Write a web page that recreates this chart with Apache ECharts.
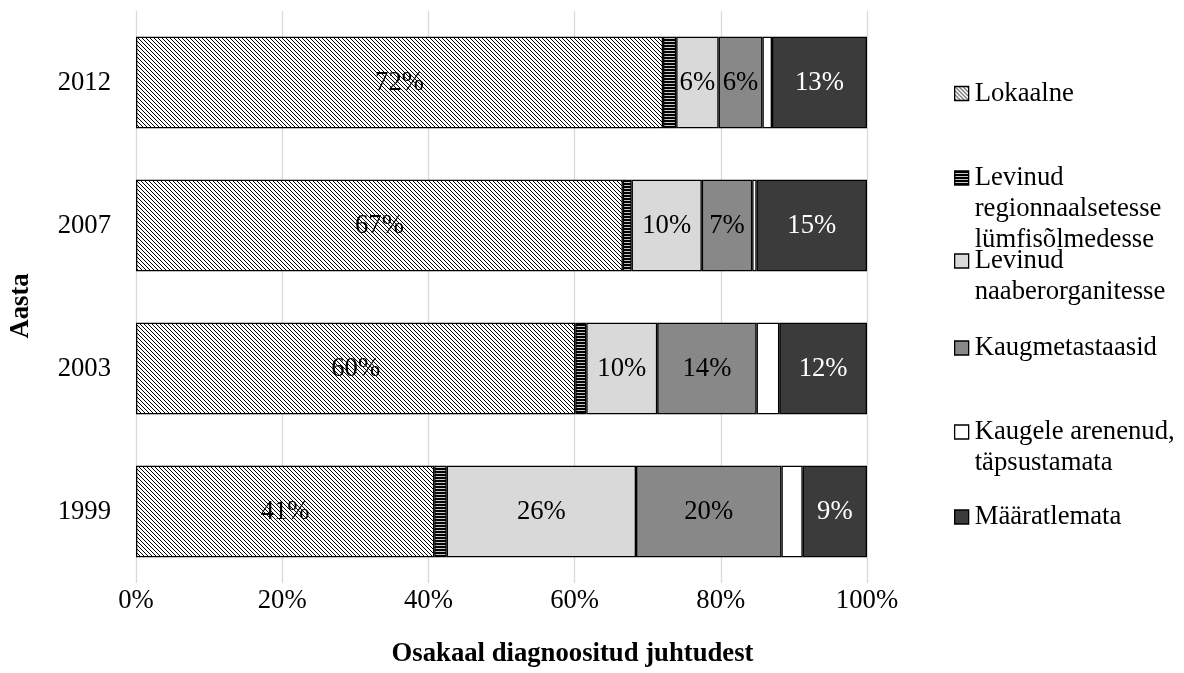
<!DOCTYPE html>
<html>
<head>
<meta charset="utf-8">
<script src="https://cdn.jsdelivr.net/npm/echarts@6/dist/echarts.min.js"></script>
<style>
  html, body { margin: 0; padding: 0; background: #fff; }
  #chart { width: 1184px; height: 673px; }
</style>
</head>
<body>
<div id="chart"></div>
<script>
// Diagnosis stage shares (%) by year
const years = ['1999', '2003', '2007', '2012'];
const seriesNames = [
  'Lokaalne',
  'Levinud regionnaalsetesse lümfisõlmedesse',
  'Levinud naaberorganitesse',
  'Kaugmetastaasid',
  'Kaugele arenenud, täpsustamata',
  'Määratlemata'
];
const legendLines = [
  ['Lokaalne'],
  ['Levinud', 'regionnaalsetesse', 'lümfisõlmedesse'],
  ['Levinud', 'naaberorganitesse'],
  ['Kaugmetastaasid'],
  ['Kaugele arenenud,', 'täpsustamata'],
  ['Määratlemata']
];
const lokaalne        = [40.8, 60.1, 66.6, 72.1];
const regionaalne     = [1.7, 1.5, 1.2, 1.8];
const naaberorganid   = [25.9, 9.7, 9.6, 5.8];
const kaugmetastaasid = [19.9, 13.6, 6.9, 6.0];
const taepsustamata   = [2.9, 3.1, 0.6, 1.3];
const maaratlemata    = [8.8, 12.0, 15.1, 13.0];
const xTicks = [0, 20, 40, 60, 80, 100];

const FONT = "'Liberation Serif', 'Times New Roman', serif";
const FS = 26.7;

// Fill patterns
function diagPattern() {
  const c = document.createElement('canvas');
  c.width = 4; c.height = 4;
  const g = c.getContext('2d');
  g.fillStyle = '#fff'; g.fillRect(0, 0, 4, 4);
  g.fillStyle = '#000';
  for (let i = 0; i < 4; i++) g.fillRect(i, i, 1, 1);
  return { image: c, repeat: 'repeat' };
}
function stripePattern() {
  const c = document.createElement('canvas');
  c.width = 4; c.height = 3;
  const g = c.getContext('2d');
  g.fillStyle = '#000'; g.fillRect(0, 0, 4, 3);
  g.fillStyle = '#c8c8c8'; g.fillRect(0, 2, 4, 1);
  return { image: c, repeat: 'repeat' };
}

const fills = [diagPattern(), stripePattern(), '#d9d9d9', '#888888', '#ffffff', '#3b3b3b'];
const values = [lokaalne, regionaalne, naaberorganid, kaugmetastaasid, taepsustamata, maaratlemata];
const labelled = [true, false, true, true, false, true];
const labelColors = ['#000', '#000', '#000', '#000', '#000', '#fff'];

const series = seriesNames.map((name, i) => ({
  name: name,
  type: 'bar',
  stack: 'total',
  barCategoryGap: '36%',
  data: values[i],
  itemStyle: { color: fills[i], borderColor: '#000', borderWidth: 1.3 },
  label: {
    show: labelled[i],
    position: 'inside',
    formatter: p => Math.round(p.value) + '%',
    fontFamily: FONT,
    fontSize: FS,
    color: labelColors[i]
  },
  emphasis: { disabled: true }
}));

// One legend block per series. Every entry is a 5-line block whose middle line
// is the first text line, so the icon sits beside the first line.
const LINE_H = 31;
const legendIconY = [93.5, 178, 261, 348, 432, 517];
const legends = seriesNames.map((name, i) => {
  const lines = legendLines[i];
  const block = ['', ''].concat(lines);
  while (block.length < 5) block.push('');
  return {
    data: [{ name: name, icon: 'rect' }],
    orient: 'vertical',
    left: 954,
    top: legendIconY[i] - 2.5 * LINE_H,
    padding: 0,
    itemWidth: 14,
    itemHeight: 14,
    itemGap: 0,
    selectedMode: false,
    formatter: () => block.join('\n'),
    itemStyle: { borderColor: '#000', borderWidth: 1.3 },
    textStyle: {
      fontFamily: FONT,
      fontSize: FS,
      color: '#000',
      lineHeight: LINE_H,
      padding: [0, 0, 0, 1]
    }
  };
});

const chart = echarts.init(document.getElementById('chart'), null, { renderer: 'canvas' });
chart.setOption({
  animation: false,
  backgroundColor: '#fff',
  grid: { left: 118, right: 317, top: 11, bottom: 70, containLabel: false },
  legend: legends,
  xAxis: {
    type: 'value',
    min: xTicks[0],
    max: xTicks[xTicks.length - 1],
    interval: xTicks[1] - xTicks[0],
    name: 'Osakaal diagnoositud juhtudest',
    nameLocation: 'middle',
    nameGap: 58,
    nameTextStyle: { fontFamily: FONT, fontSize: FS, fontWeight: 'bold', color: '#000', padding: [0, 0, 0, 142] },
    axisLine: { show: false },
    axisTick: { show: false },
    axisLabel: { formatter: '{value}%', fontFamily: FONT, fontSize: FS, color: '#000', margin: 4 },
    splitLine: { show: true, lineStyle: { color: '#d9d9d9', width: 1.3 } }
  },
  yAxis: {
    type: 'category',
    data: years,
    name: 'Aasta',
    nameLocation: 'middle',
    nameRotate: 90,
    nameGap: 101,
    nameTextStyle: { fontFamily: FONT, fontSize: FS, fontWeight: 'bold', color: '#000', padding: [0, 18, 0, 0] },
    axisLine: { show: false },
    axisTick: { show: false },
    axisLabel: { fontFamily: FONT, fontSize: FS, color: '#000', margin: 25 },
    splitLine: { show: false }
  },
  series: series
});
</script>
</body>
</html>
